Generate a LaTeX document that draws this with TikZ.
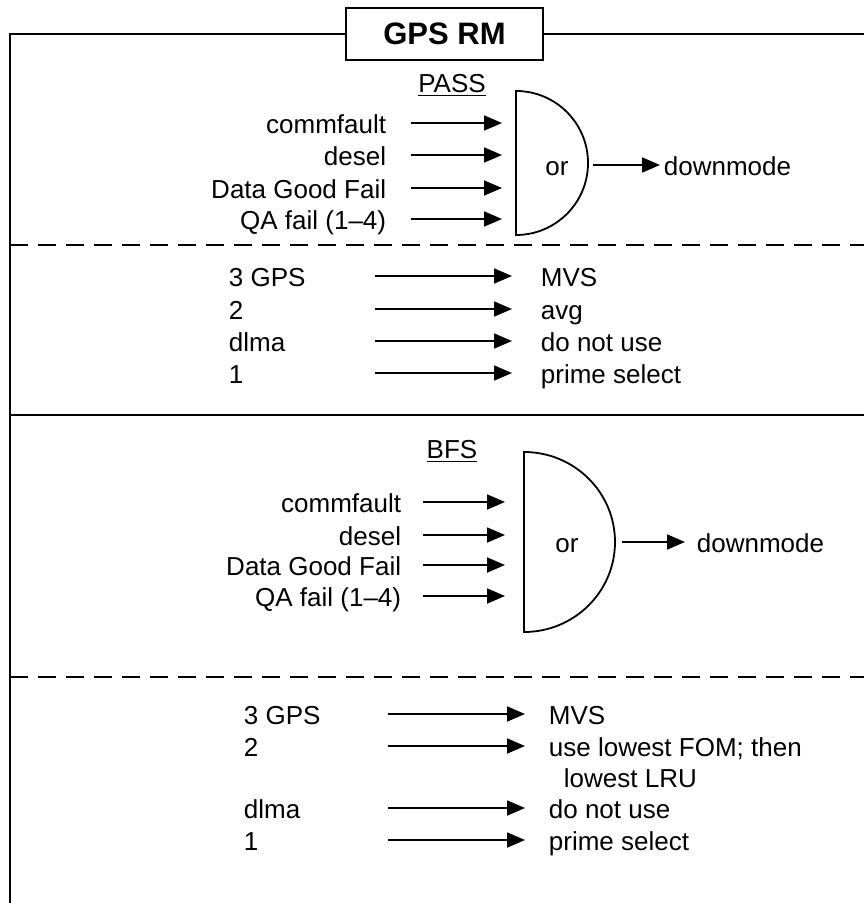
\documentclass[tikz,border=0pt]{standalone}
\usepackage{fontspec}
\setmainfont{Liberation Sans}
\usetikzlibrary{arrows.meta}
\usetikzlibrary{positioning}

\begin{document}
\begin{tikzpicture}[x=0.5pt,y=-0.5pt,line width=0.9pt,
  every node/.style={inner sep=0pt,font=\fontsize{13pt}{15pt}\selectfont,text height=11.5pt,text depth=1.3pt},
  arr/.style={-{Triangle[length=9pt,width=7.5pt]}},
  gap/.style={dash pattern=on 9pt off 5pt}]
\useasboundingbox (0,0) rectangle (864,903);
\node[draw,minimum width=98.5pt,minimum height=26pt,font=\fontsize{15.5pt}{17pt}\selectfont\bfseries] (title) at (444.5,34) {GPS RM};
\draw (title.west) -- (10,34) -- (10,903);
\draw (title.east) -- (864,34);

% PASS
\node (pass) at (452,82) {\underline{PASS}};
\draw (516,91) arc[start angle=-90,end angle=90,radius=72] -- cycle;
\coordinate (gAw) at (516,163);
\coordinate (gAe) at (593,165);
\node (gA) at (557,165) {or};
\node[anchor=east] (pa1) at (387,123) {commfault};
\node[anchor=east] (pa2) at (387,155) {desel};
\node[anchor=east] (pa3) at (387,188) {Data Good Fail};
\node[anchor=east] (pa4) at (387,219) {QA fail (1--4)};
\foreach \n in {pa1,pa2,pa3,pa4}
  \draw[arr] ([xshift=12pt]\n.east) -- ([xshift=-7pt]\n -| gAw);
\node[anchor=west] (dmA) at (663,165) {downmode};
\draw[arr,shorten >=1.5pt] (gAe) -- (dmA);
\draw[gap] (10,245) -- (864,245);

\coordinate (tA) at (375,0);
\node[anchor=west] (pl1) at (228,276) {3 GPS};
\node[anchor=west] (pl2) at (228,309) {2};
\node[anchor=west] (pl3) at (228,341) {dlma};
\node[anchor=west] (pl4) at (228,373) {1};
\node[anchor=west] (pr1) at (540,276) {MVS};
\node[anchor=west] (pr2) at (540,309) {avg};
\node[anchor=west] (pr3) at (540,341) {do not use};
\node[anchor=west] (pr4) at (540,373) {prime select};
\foreach \i in {1,...,4}
  \draw[arr,shorten >=14pt] (pl\i -| tA) -- (pr\i);
\draw (10,415) -- (864,415);

% BFS
\node (bfs) at (452,448) {\underline{BFS}};
\draw (524,452) arc[start angle=-90,end angle=90,x radius=91,y radius=90] -- cycle;
\coordinate (gBw) at (524,542);
\coordinate (gBe) at (622,542);
\node (gB) at (567,542) {or};
\node[anchor=east] (pb1) at (402,502) {commfault};
\node[anchor=east] (pb2) at (402,535) {desel};
\node[anchor=east] (pb3) at (402,565) {Data Good Fail};
\node[anchor=east] (pb4) at (402,596) {QA fail (1--4)};
\foreach \n in {pb1,pb2,pb3,pb4}
  \draw[arr] ([xshift=10.5pt]\n.east) -- ([xshift=-9.5pt]\n -| gBw);
\node[anchor=west] (dmB) at (696,542) {downmode};
\draw[arr,shorten >=5.5pt] (gBe) -- (dmB);
\draw[gap] (10,677) -- (864,677);

\coordinate (tB) at (388,0);
\node[anchor=west] (bl1) at (243,714) {3 GPS};
\node[anchor=west] (bl2) at (243,746) {2};
\node[anchor=west] (bl3) at (243,808) {dlma};
\node[anchor=west] (bl4) at (243,840) {1};
\node[anchor=west] (br1) at (548,714) {MVS};
\node[anchor=west] (br2) at (548,746) {use lowest FOM; then};
\node[anchor=west] (br2b) at ([xshift=7.5pt,yshift=-15.5pt]br2.west) {lowest LRU};
\node[anchor=west] (br3) at (548,808) {do not use};
\node[anchor=west] (br4) at (548,840) {prime select};
\foreach \i in {1,...,4}
  \draw[arr,shorten >=11.5pt] (bl\i -| tB) -- (br\i);
\end{tikzpicture}
\end{document}
